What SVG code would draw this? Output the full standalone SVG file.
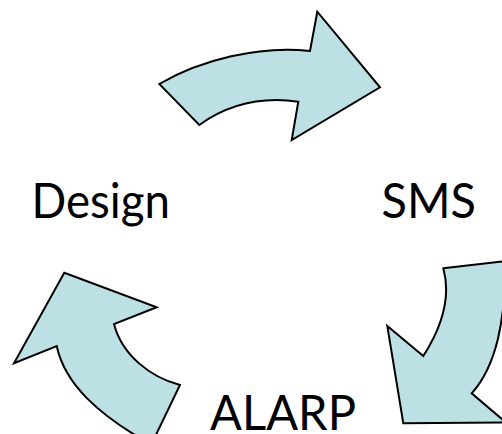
<svg xmlns="http://www.w3.org/2000/svg" width="502" height="434" viewBox="0 0 502 434">
<style>
.arrow{fill:#BCE0E3;stroke:#000;stroke-width:2;stroke-linejoin:miter}
.lbl{font-family:"Lato","Open Sans","Liberation Sans",sans-serif;font-size:48px;fill:#000}
</style>
<rect width="502" height="434" fill="#fff"/>
<g id="connectors">
<path id="arrow-design-sms" class="arrow" d="M 159.3,84 C 200,60 260,45 310,51 L 317.3,11.7 L 380,87.3 L 291.7,140 L 298.3,101.7 C 265,97 230,103 199.3,125 Z"/>
<path id="arrow-sms-alarp" class="arrow" d="M 443.3,268.3 L 506,261 C 505,320 497,365 471.7,393.3 L 506,422.5 L 403.3,423.3 L 387.3,326 L 423.3,356 C 440,330 452,300 443.3,268.3 Z"/>
<path id="arrow-alarp-design" class="arrow" d="M 64.3,272.7 L 156.7,307.3 L 114,324 C 122,355 150,377 180,385 L 153,441 L 145,441 C 100,415 65,385 56.7,346 L 14,363.3 Z"/>
</g>
<g id="node-design"><text class="lbl" x="31.5" y="217.7" textLength="138.5" lengthAdjust="spacingAndGlyphs">Design</text></g>
<g id="node-sms"><text class="lbl" x="381.5" y="217.7" textLength="94.5" lengthAdjust="spacingAndGlyphs">SMS</text></g>
<g id="node-alarp"><text class="lbl" x="210" y="430" textLength="146" lengthAdjust="spacingAndGlyphs">ALARP</text></g>
</svg>
